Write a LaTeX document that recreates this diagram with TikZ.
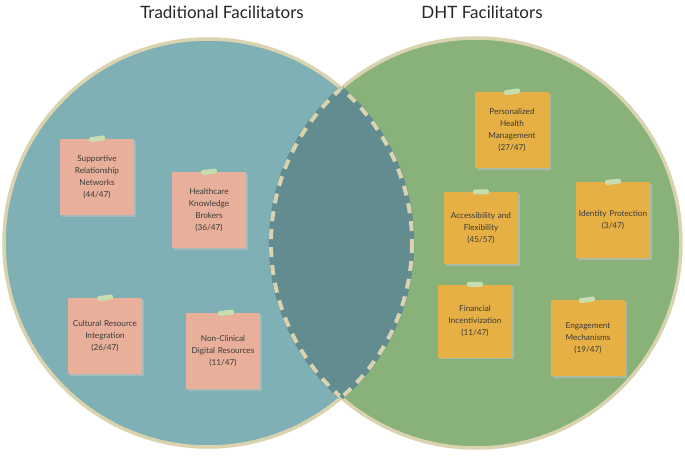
\documentclass[tikz,border=0pt]{standalone}
\usepackage{fontspec}
\setmainfont{Lato}
\usetikzlibrary{shadows}
\definecolor{lc}{HTML}{7FB0B5}
\definecolor{rc}{HTML}{88B27A}
\definecolor{lens}{HTML}{638C90}
\definecolor{rim}{HTML}{D9D3AF}
\definecolor{pink}{HTML}{E8B09A}
\definecolor{orng}{HTML}{E6B045}
\definecolor{tape}{HTML}{C6DDB0}
\definecolor{txt}{HTML}{3A3A3A}
\begin{document}
\begin{tikzpicture}[x=1pt,y=-1pt,
  note/.style={minimum width=74pt,minimum height=76pt,inner sep=1pt,align=center,text width=72pt,font=\fontsize{8.2}{12}\selectfont,text=txt,drop shadow={shadow xshift=1.5pt,shadow yshift=-1.5pt,fill=black!25,opacity=0.6}},
  pnote/.style={note,fill=pink},
  onote/.style={note,fill=orng},
  tapestyle/.style={fill=tape,rounded corners=1.5pt,minimum width=16pt,minimum height=5pt,inner sep=0pt},
  title/.style={font=\fontsize{17}{20}\selectfont,text=black!85},
  lensdash/.style={rim,line width=4pt,dash pattern=on 10pt off 8pt}]
\useasboundingbox (0,0) rectangle (685,455);
\fill[white] (0,0) rectangle (685,455);
\coordinate (L) at (208,243);
\coordinate (R) at (476,243);
\fill[lc] (L) circle (204);
\fill[rc] (R) circle (205);
\draw[rim,line width=3.5pt] (L) circle (204);
\draw[rim,line width=3.5pt] (R) circle (205);
\begin{scope}
\clip (L) circle (204);
\fill[lens] (R) circle (205);
\draw[lens,line width=4.5pt] (R) circle (205);
\draw[lensdash] (R) circle (205);
\end{scope}
\begin{scope}
\clip (R) circle (205);
\draw[lens,line width=4.5pt] (L) circle (204);
\draw[lensdash] (L) circle (204);
\end{scope}
\node[title] (t1) at (222,12) {Traditional Facilitators};
\node[title] (t2) at (482,12) {DHT Facilitators};
\node[pnote] (n1) at (97,177) {Supportive\\Relationship\\Networks\\(44/47)};
\node[pnote] (n2) at (209,210) {Healthcare\\Knowledge\\Brokers\\(36/47)};
\node[pnote] (n3) at (105,336) {Cultural Resource\\Integration\\(26/47)};
\node[pnote] (n4) at (223,351) {Non-Clinical\\Digital Resources\\(11/47)};
\node[onote] (n5) at (512,130) {Personalized\\Health\\Management\\(27/47)};
\node[onote,minimum height=72pt] (n6) at (481,228) {Accessibility and\\Flexibility\\(45/57)};
\node[onote] (n7) at (613,220) {Identity Protection\\(3/47)};
\node[onote,minimum height=73pt] (n8) at (475,321) {Financial\\Incentivization\\(11/47)};
\node[onote] (n9) at (588,338) {Engagement\\Mechanisms\\(19/47)};
\foreach \n/\dx/\r in {n1/0/8,n2/0/6,n3/0/8,n4/3/6,n5/0/8,n6/0/0,n7/0/6,n8/0/0,n9/-1/8}{
  \node[tapestyle,rotate=\r] at ([xshift=\dx pt]\n.north) {};
}
\end{tikzpicture}
\end{document}
